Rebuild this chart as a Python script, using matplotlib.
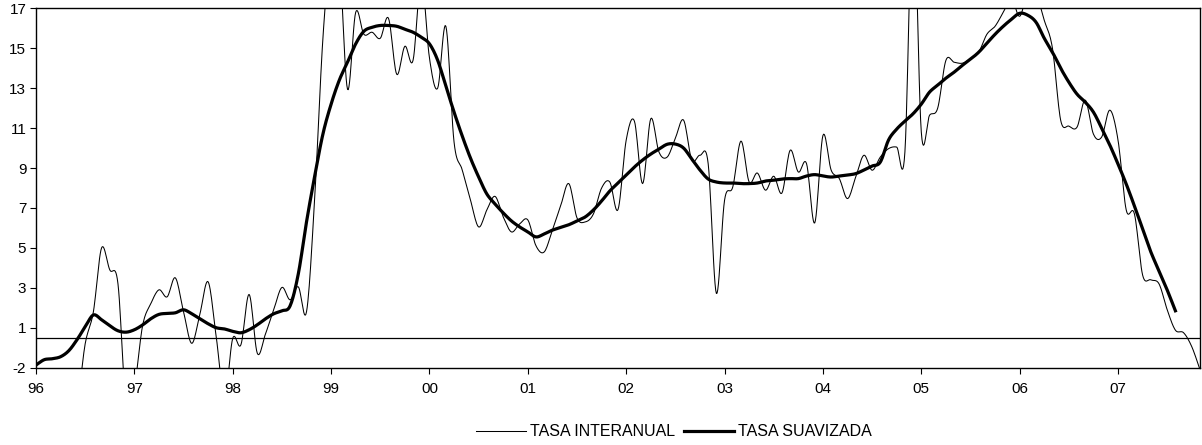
import numpy as np
import matplotlib
matplotlib.use("Agg")
from matplotlib import pyplot as plt
from matplotlib.ticker import FuncFormatter

plt.rcParams['font.family'] = ['Liberation Sans', 'DejaVu Sans']
plt.rcParams['font.size'] = 11

# monthly data, Jan 96 ...
years = ["96", "97", "98", "99", "00", "01", "02", "03", "04", "05", "06", "07"]

tasa_interanual = [
    -3.0, -3.2, -3.0, -3.1, -3.2, -3.3, -0.3, 1.3, 4.5, 3.4, 2.7, -3.5,
    -2.5, 0.6, 1.7, 2.4, 2.05, 3.0, 1.3, -0.28, 1.2, 2.8, 0.0, -3.0,
    -0.03, -0.35, 2.17, -0.78, 0.2, 1.4, 2.52, 1.9, 2.55, 1.3, 7.0, 15.0,
    19.5, 19.0, 12.45, 16.3, 15.2, 15.3, 15.0, 16.0, 13.2, 14.6, 13.9, 18.0,
    14.0, 12.5, 15.6, 9.8, 8.4, 6.9, 5.55, 6.4, 7.08, 6.05, 5.3, 5.7,
    5.9, 4.6, 4.3, 5.4, 6.6, 7.72, 6.0, 5.8, 6.2, 7.5, 7.8, 6.42,
    9.9, 10.85, 7.72, 10.97, 9.3, 9.05, 10.0, 10.9, 8.9, 9.14, 8.72, 2.22,
    6.89, 7.55, 9.85, 7.8, 8.25, 7.39, 8.09, 7.25, 9.39, 8.3, 8.72, 5.75,
    10.13, 8.4, 7.97, 6.97, 8.05, 9.14, 8.39, 9.05, 9.47, 9.55, 9.3, 22.0,
    10.3, 11.14, 11.5, 13.89, 13.8, 13.75, 13.97, 14.3, 15.2, 15.6, 16.3, 17.0,
    16.1, 17.3, 17.2, 15.9, 14.5, 10.9, 10.6, 10.55, 11.9, 10.2, 10.05, 11.4,
    9.9, 6.4, 6.2, 3.14, 2.9, 2.7, 1.4, 0.38, 0.25, -0.45, -1.6,
]

tasa_suavizada = [
    -1.37, -1.1, -1.05, -0.95, -0.65, -0.1, 0.55, 1.14, 0.9, 0.6, 0.35, 0.28,
    0.4, 0.64, 0.95, 1.17, 1.22, 1.25, 1.4, 1.2, 0.95, 0.7, 0.5, 0.44,
    0.32, 0.25, 0.4, 0.65, 0.95, 1.2, 1.35, 1.6, 3.2, 5.8, 8.1, 10.2,
    11.7, 12.9, 13.8, 14.72, 15.35, 15.55, 15.64, 15.64, 15.6, 15.45, 15.3, 15.05,
    14.72, 13.9, 12.6, 11.3, 10.1, 9.0, 8.05, 7.2, 6.7, 6.25, 5.85, 5.55,
    5.3, 5.05, 5.2, 5.39, 5.52, 5.66, 5.85, 6.05, 6.4, 6.85, 7.35, 7.75,
    8.15, 8.55, 8.9, 9.2, 9.45, 9.69, 9.7, 9.5, 8.95, 8.4, 7.95, 7.8,
    7.75, 7.75, 7.72, 7.72, 7.75, 7.85, 7.89, 7.95, 7.97, 7.97, 8.1, 8.17,
    8.1, 8.05, 8.1, 8.15, 8.22, 8.4, 8.6, 8.8, 9.9, 10.45, 10.85, 11.22,
    11.7, 12.3, 12.65, 13.0, 13.3, 13.64, 13.95, 14.3, 14.75, 15.2, 15.6, 15.95,
    16.25, 16.15, 15.8, 15.0, 14.3, 13.5, 12.8, 12.2, 11.8, 11.3, 10.5, 9.65,
    8.7, 7.7, 6.6, 5.45, 4.3, 3.35, 2.39, 1.35,
]


def smooth(y, n=12):
    # excel style smoothed line: bezier segments through the monthly points
    y = np.asarray(y, dtype=float)
    p = np.column_stack([np.arange(len(y), dtype=float), y])
    p = np.vstack([p[0], p, p[-1]])
    t = np.linspace(0, 1, n, endpoint=False)[:, None]
    out = []
    for i in range(1, len(p) - 2):
        p0, p1, p2, p3 = p[i - 1], p[i], p[i + 1], p[i + 2]
        c1 = p1 + (p2 - p0) / 6
        c2 = p2 - (p3 - p1) / 6
        out.append((1 - t)**3 * p1 + 3 * (1 - t)**2 * t * c1 + 3 * (1 - t) * t**2 * c2 + t**3 * p2)
    out.append(p[-2][None, :])
    out = np.vstack(out)
    return out[:, 0], out[:, 1]


def excel_round(v, pos):
    return f"{np.sign(v) * np.floor(abs(v) + 0.5):.0f}"


fig = plt.figure(figsize=(12.02, 4.45), dpi=100)
ax = fig.add_axes([36 / 1202, 1 - 367.7 / 445, 1164 / 1202, 359.4 / 445])

x1, y1 = smooth(tasa_interanual)
x2, y2 = smooth(tasa_suavizada)
ax.plot(x1, y1, color='black', lw=0.75, label='TASA INTERANUAL')
ax.plot(x2, y2, color='black', lw=2.3, label='TASA SUAVIZADA')
ax.axhline(0, color='black', lw=0.9)

ax.set_xlim(0, len(tasa_interanual) - 1)
ax.set_ylim(-1.5, 16.5)
ax.set_yticks(np.arange(-1.5, 16.6, 2))
ax.yaxis.set_major_formatter(FuncFormatter(excel_round))
ax.set_xticks(np.arange(len(years)) * 12)
ax.set_xticklabels(years)
ax.tick_params(axis='x', direction='out', length=4, width=0.8, pad=6)
ax.tick_params(axis='y', direction='out', length=4, width=0.8, pad=3)
for s in ax.spines.values():
    s.set_linewidth(1.0)
    s.set_color('black')

fig.legend(loc='center', bbox_to_anchor=(674 / 1202, 1 - 432 / 445), ncol=2, frameon=False,
           handlelength=3.1, handletextpad=0.25, columnspacing=0.6, fontsize=11.5)

fig.savefig('out.png', dpi=100)
